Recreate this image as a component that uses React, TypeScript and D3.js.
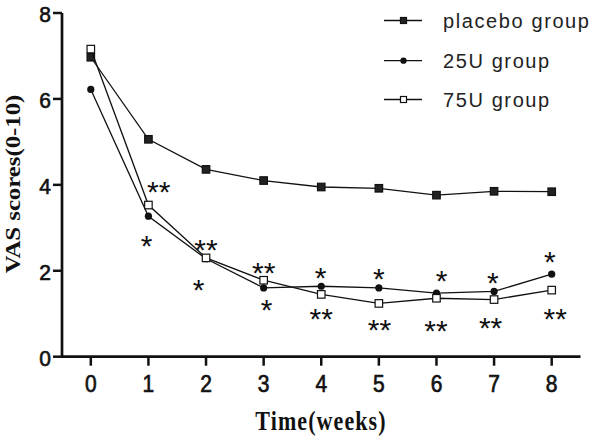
import React from "react";
import * as d3 from "d3";

const weeks = [0, 1, 2, 3, 4, 5, 6, 7, 8];
const placebo = [6.97, 5.06, 4.36, 4.1, 3.95, 3.92, 3.76, 3.85, 3.84];
const u25 = [6.22, 3.27, 2.28, 1.6, 1.64, 1.6, 1.48, 1.52, 1.92];
const u75 = [7.16, 3.53, 2.3, 1.78, 1.45, 1.24, 1.36, 1.33, 1.55];
const xTicks = [0, 1, 2, 3, 4, 5, 6, 7, 8];
const yTicks = [0, 2, 4, 6, 8];
const legendLabels = ["placebo group", "25U group", "75U group"];
const markerKinds = ["filledSquare", "circle", "openSquare"];

// significance marks: week position, value position, label
const sigX = [1.18, 0.97, 2.0, 1.87, 3.0, 3.05, 3.99, 4.0, 5.0, 5.01, 6.09, 5.99, 6.98, 6.94, 7.97, 8.06];
const sigY = [4.0, 2.74, 2.65, 1.72, 2.1, 1.25, 2.0, 1.05, 1.98, 0.79, 1.93, 0.76, 1.88, 0.84, 2.37, 1.03];
const sigLabel = ["**", "*", "**", "*", "**", "*", "*", "**", "*", "**", "*", "**", "*", "**", "*", "**"];

const W = 600;
const H = 437;

function Marker({ kind, x, y, size }: { kind: string; x: number; y: number; size: number }) {
  if (kind === "circle") {
    return <circle cx={x} cy={y} r={size * 0.45} fill="#111" />;
  }
  const filled = kind === "filledSquare";
  return (
    <rect
      x={x - size / 2}
      y={y - size / 2}
      width={size}
      height={size}
      fill={filled ? "#222" : "#fff"}
      stroke="#111"
      strokeWidth={1.2}
    />
  );
}

export default function App() {
  const x = d3.scaleLinear().domain([-0.5, 8.5]).range([62, 580.5]);
  const y = d3.scaleLinear().domain([0, 8]).range([356.7, 13]);
  const series = [placebo, u25, u75];
  const line = d3
    .line<number>()
    .x((_, i) => x(weeks[i]))
    .y((d) => y(d));

  const sans = "'Liberation Sans', Arial, sans-serif";
  const serif = "'Liberation Serif', 'Times New Roman', serif";

  return (
    <svg
      width={W}
      height={H}
      style={{ position: "absolute", left: 0, top: 0, background: "#fff" }}
    >
      <rect width={W} height={H} fill="#fff" />
      {/* axes */}
      <line x1={x(-0.5)} x2={x(8.5)} y1={y(0)} y2={y(0)} stroke="#111" strokeWidth={2.7} />
      <line x1={x(-0.5)} x2={x(-0.5)} y1={y(0) + 1.3} y2={y(8)} stroke="#111" strokeWidth={2.7} />
      {yTicks.map((t) => (
        <g key={"y" + t}>
          <line x1={x(-0.5) - 9} x2={x(-0.5)} y1={y(t)} y2={y(t)} stroke="#111" strokeWidth={2.5} />
          <text
            transform={`translate(${x(-0.5) - 11},${y(t) + 9.2}) scale(1,1.06)`}
            textAnchor="end"
            fontFamily={sans}
            fontSize={21}
            fill="#111"
            stroke="#111"
            strokeWidth={0.6}
          >
            {t}
          </text>
        </g>
      ))}
      {xTicks.map((t) => (
        <g key={"x" + t}>
          <line x1={x(t)} x2={x(t)} y1={y(0)} y2={y(0) + 9} stroke="#111" strokeWidth={2.5} />
          <text
            transform={`translate(${x(t)},${392}) scale(1,1.1)`}
            textAnchor="middle"
            fontFamily={sans}
            fontSize={21}
            fill="#111"
            stroke="#111"
            strokeWidth={0.6}
          >
            {t}
          </text>
        </g>
      ))}
      {/* axis titles */}
      <text
        transform={`translate(321,430) scale(1,1.2)`}
        textAnchor="middle"
        fontFamily={serif}
        fontWeight="bold"
        fontSize={22}
        letterSpacing={1.1}
        fill="#111"
      >
        Time(weeks)
      </text>
      <text
        transform={`translate(19.5,184) rotate(-90) scale(1.18,1)`}
        textAnchor="middle"
        fontFamily={serif}
        fontWeight="bold"
        fontSize={21}
        fill="#111"
      >
        VAS scores(0-10)
      </text>
      {/* series */}
      {series.map((s, si) => (
        <g key={"s" + si}>
          <path d={line(s) || ""} fill="none" stroke="#111" strokeWidth={1.3} />
          {s.map((v, i) => (
            <Marker key={i} kind={markerKinds[si]} x={x(weeks[i])} y={y(v)} size={si === 1 ? 8 : 7.5} />
          ))}
        </g>
      ))}
      {/* significance marks */}
      {sigLabel.map((lab, i) => (
        <text
          key={"sig" + i}
          x={x(sigX[i])}
          y={y(sigY[i]) + 17}
          textAnchor="middle"
          fontFamily={sans}
          fontSize={30}
          fill="#111"
        >
          {lab}
        </text>
      ))}
      {/* legend */}
      {legendLabels.map((lab, i) => {
        const ly = [20.5, 60.7, 99.5][i];
        return (
          <g key={"lg" + i}>
            <line x1={384} x2={422} y1={ly} y2={ly} stroke="#111" strokeWidth={1.3} />
            <Marker kind={markerKinds[i]} x={403.5} y={ly} size={i === 1 ? 7 : 6} />
            <text
              x={443}
              y={ly + 7}
              fontFamily={sans}
              fontSize={20}
              letterSpacing={1.6}
              fill="#222"
            >
              {lab}
            </text>
          </g>
        );
      })}
    </svg>
  );
}
